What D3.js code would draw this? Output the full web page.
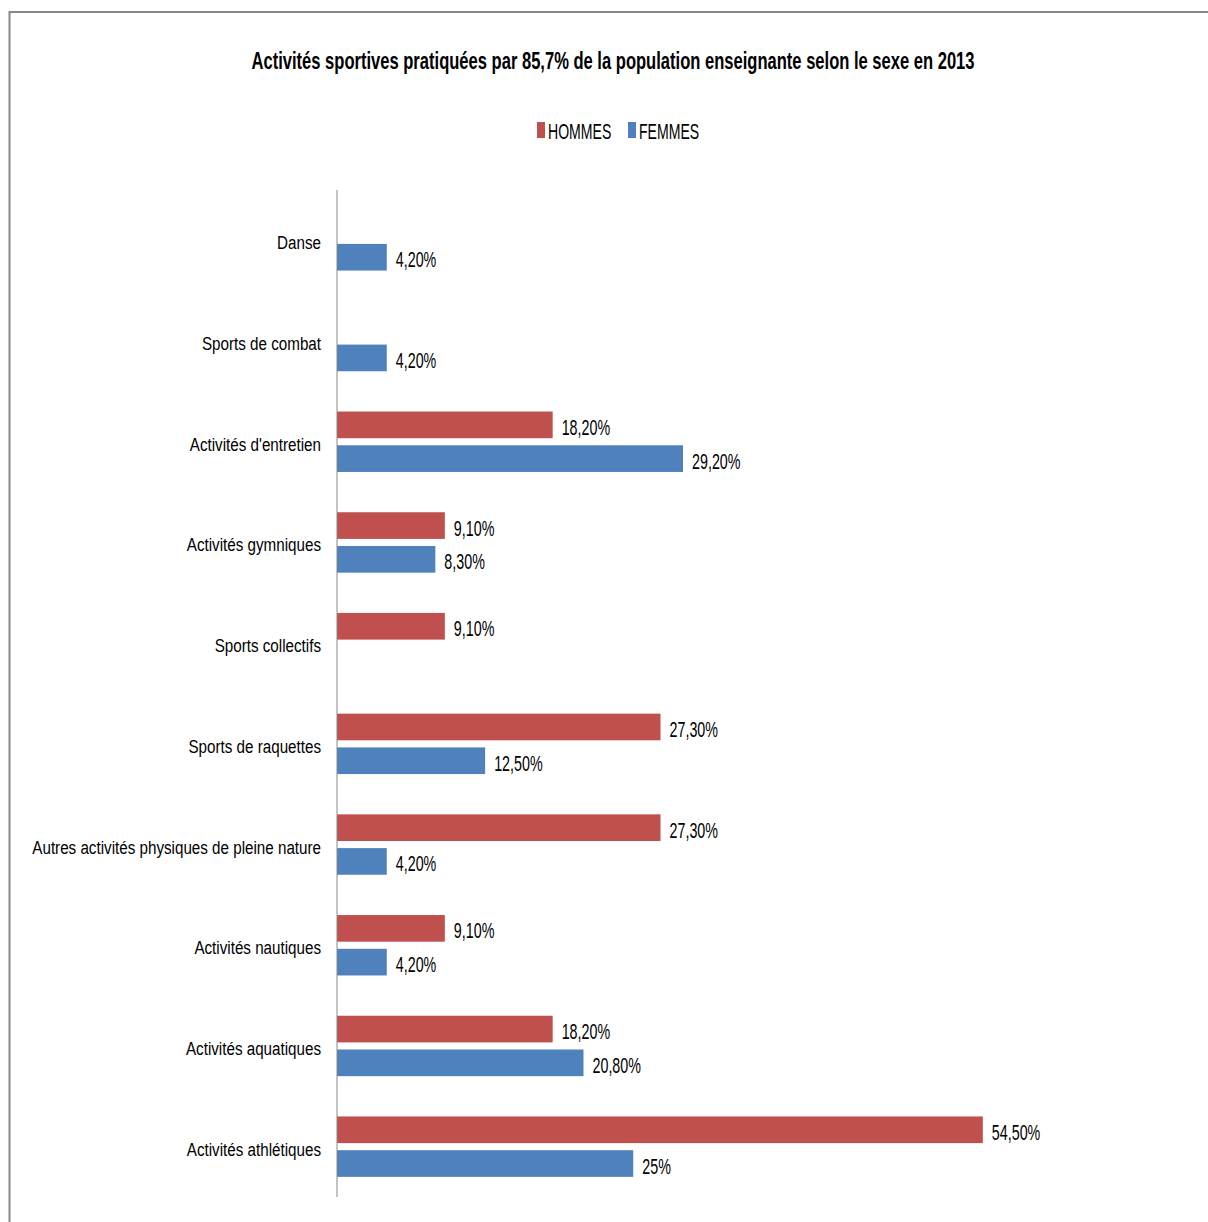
<!DOCTYPE html>
<html>
<head>
<meta charset="utf-8">
<script src="https://cdn.jsdelivr.net/npm/d3@7"></script>
<style>
  body { margin: 0; background: #fff; }
  text { font-family: "Liberation Sans", Arial, sans-serif; fill: #000; }
</style>
</head>
<body>
<div id="chart"></div>
<script>
// Data
const categories = [
  "Danse",
  "Sports de combat",
  "Activités d'entretien",
  "Activités gymniques",
  "Sports collectifs",
  "Sports de raquettes",
  "Autres activités physiques de pleine nature",
  "Activités nautiques",
  "Activités aquatiques",
  "Activités athlétiques",
];
const seriesNames = ["HOMMES", "FEMMES"];
const hommes = [null, null, 18.2, 9.1, 9.1, 27.3, 27.3, 9.1, 18.2, 54.5];
const femmes = [4.2, 4.2, 29.2, 8.3, null, 12.5, 4.2, 4.2, 20.8, 25];
const colors = ["#C0504D", "#4F81BD"];

const W = 1208, H = 1222;

const svg = d3.select("#chart").append("svg")
  .attr("width", W)
  .attr("height", H);

// Outer frame (chart area border)
svg.append("rect")
  .attr("x", 9.5).attr("y", 12)
  .attr("width", W + 20).attr("height", H + 20)
  .attr("fill", "none")
  .attr("stroke", "#888")
  .attr("stroke-width", 2);

// Scales
const x = d3.scaleLinear().domain([0, 60]).range([337, 1048]);
const y = d3.scaleBand().domain(categories).range([190, 1197])
  .paddingInner(0.4).paddingOuter(0.2);
const ySub = d3.scaleBand().domain(seriesNames).range([0, y.bandwidth()])
  .paddingInner(0.21);

const fmt = (v) => (Number.isInteger(v) ? v : v.toFixed(2)).toString().replace(".", ",") + "%";

// helper: horizontally condensed text
function condensed(sel, tx, ty, sx) {
  return sel.attr("transform", `translate(${tx},${ty}) scale(${sx},1)`);
}

// Title
condensed(svg.append("text"), 613, 69, 0.72)
  .attr("text-anchor", "middle")
  .style("font-size", "23px")
  .style("font-weight", "bold")
  .text("Activités sportives pratiquées par 85,7% de la population  enseignante selon le sexe en 2013");

// Legend
const legendX = [537, 628];
seriesNames.forEach((name, i) => {
  svg.append("rect")
    .attr("x", legendX[i]).attr("y", 122)
    .attr("width", 8).attr("height", 16)
    .attr("fill", colors[i]);
  condensed(svg.append("text"), legendX[i] + 11, 139, 0.64)
    .style("font-size", "22px")
    .text(name);
});

// Rows
const rows = categories.map((c, i) => ({ cat: c, values: [hommes[i], femmes[i]] }));

const g = svg.append("g");
const bars = rows.flatMap((r) =>
  r.values.map((v, j) => ({ cat: r.cat, series: seriesNames[j], value: v, color: colors[j] }))
).filter((d) => d.value != null);

g.selectAll("rect.bar")
  .data(bars)
  .join("rect")
  .attr("class", "bar")
  .attr("x", x(0))
  .attr("y", (d) => y(d.cat) + ySub(d.series))
  .attr("width", (d) => x(d.value) - x(0))
  .attr("height", ySub.bandwidth())
  .attr("fill", (d) => d.color);

// Value labels
g.selectAll("text.val")
  .data(bars)
  .join("text")
  .attr("class", "val")
  .each(function (d) {
    condensed(d3.select(this), x(d.value) + 9,
      y(d.cat) + ySub(d.series) + ySub.bandwidth() / 2 + 10, 0.65);
  })
  .style("font-size", "22px")
  .text((d) => fmt(d.value));

// Category axis
g.append("line")
  .attr("x1", x(0)).attr("x2", x(0))
  .attr("y1", 190).attr("y2", 1197)
  .attr("stroke", "#888")
  .attr("stroke-width", 1);

g.selectAll("text.cat")
  .data(categories)
  .join("text")
  .attr("class", "cat")
  .each(function (d) {
    condensed(d3.select(this), 321, y(d) + y.bandwidth() / 2 + 9, 0.8);
  })
  .attr("text-anchor", "end")
  .style("font-size", "19px")
  .text((d) => d);
</script>
</body>
</html>
